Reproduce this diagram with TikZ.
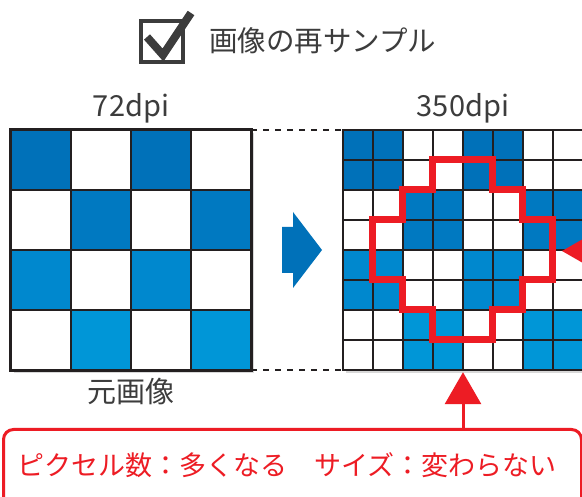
\documentclass[tikz,border=0pt]{standalone}
\usepackage{fontspec}
\setmainfont{Noto Sans CJK JP}
\usetikzlibrary{arrows.meta,shadows}

\definecolor{pixA}{HTML}{0071B9}
\definecolor{pixB}{HTML}{0079C1}
\definecolor{pixC}{HTML}{0088CE}
\definecolor{pixD}{HTML}{0096D7}
\definecolor{markred}{HTML}{ED1C24}
\definecolor{ink}{HTML}{3C3C3C}
\definecolor{gridline}{HTML}{231F20}

\begin{document}
\begin{tikzpicture}[
    x=1pt, y=-1pt,
    label/.style={text=ink, font=\fontsize{29}{29}\selectfont, inner sep=0pt},
    grid/.style={rectangle, fill=white, minimum size=240pt, inner sep=0pt,
        drop shadow={shadow xshift=3pt, shadow yshift=-3pt, opacity=0.3}},
    redline/.style={draw=markred, line width=3pt},
    redarrow/.style={markred, line width=3pt, -{Triangle[length=32pt, width=36pt]}}
]
\path[use as bounding box, fill=white] (0,0) rectangle (582,497);

% Title
\draw[ink, line width=4pt] (141,21) rectangle (183,62);
\draw[ink, line width=8pt] (147,37) -- (163,55) -- (191,13);
\node[label, anchor=west, font=\fontsize{28.5}{28.5}\selectfont] (title) at (209,41) {画像の再サンプル};

% Original image (72dpi)
\node[grid] (lores) at (131,250) {};
\begin{scope}[shift={(lores.north west)}, x=60pt, y=-60pt]
\foreach \r/\tone in {0/pixA,1/pixB,2/pixC,3/pixD}
    \foreach \c in {0,...,3} {
        \pgfmathtruncatemacro{\pix}{mod(\r+\c,2)}
        \ifnum\pix=0 \fill[\tone] (\c,\r) rectangle ++(1,1); \fi
    }
\foreach \i in {1,2,3} {
    \draw[gridline, line width=2.5pt] (\i,0) -- (\i,4);
    \draw[gridline, line width=2.5pt] (0,\i) -- (4,\i);
}
\end{scope}
\draw[gridline, line width=3pt] (lores.north west) rectangle (lores.south east);
\node[label] (lolabel) at (131,108) {72dpi};
\node[label] (srclabel) at (131,392) {元画像};

% Resampled image (350dpi)
\node[grid] (hires) at (463,250) {};
\begin{scope}[shift={(hires.north west)}, x=30pt, y=-30pt]
\foreach \r/\tone in {0/pixA,1/pixA,2/pixB,3/pixB,4/pixC,5/pixC,6/pixD,7/pixD}
    \foreach \c in {0,...,7} {
        \pgfmathtruncatemacro{\pix}{mod(int(\r/2)+int(\c/2),2)}
        \ifnum\pix=0 \fill[\tone] (\c,\r) rectangle ++(1,1); \fi
    }
\foreach \i in {1,...,7} {
    \draw[gridline, line width=2pt] (\i,0) -- (\i,8);
    \draw[gridline, line width=2pt] (0,\i) -- (8,\i);
}
% outline of the enlarged shape
\draw[markred, line width=7pt] (3,1) -- (5,1) -- (5,2) -- (6,2) -- (6,3) -- (7,3)
    -- (7,5) -- (6,5) -- (6,6) -- (5,6) -- (5,7) -- (3,7) -- (3,6) -- (2,6)
    -- (2,5) -- (1,5) -- (1,3) -- (2,3) -- (2,2) -- (3,2) -- cycle;
\end{scope}
\draw[gridline, line width=2.5pt] (hires.north west) rectangle (hires.south east);
\node[label] (hilabel) at (463,108) {350dpi};

% Dashed guides between the two images
\draw[gridline, line width=2pt, dash pattern=on 6pt off 6pt] (lores.north east) -- (hires.north west);
\draw[gridline, line width=2pt, dash pattern=on 6pt off 6pt] (lores.south east) -- (hires.south west);

% Blue arrow
\fill[pixA] (282,227) -- (293,227) -- (293,212) -- (322,250) -- (293,288)
    -- (293,273) -- (282,273) -- cycle;

% Message box
\node[redline, rounded corners=10pt, minimum width=578pt, minimum height=100pt,
    anchor=north west] (msgbox) at (2,428) {};
\node[text=markred, font=\fontsize{27}{27}\selectfont, anchor=west, inner sep=0pt]
    (msg) at (17,465) {ピクセル数：多くなる　サイズ：変わらない};

% Red pointers
\draw[redarrow, shorten >=2pt] (msgbox.north -| hires.south) -- (hires.south);
\coordinate (rtail) at (610,251);
\coordinate (rtip) at (562,251);
\draw[redarrow] (rtail) -- (rtip);

\end{tikzpicture}
\end{document}
